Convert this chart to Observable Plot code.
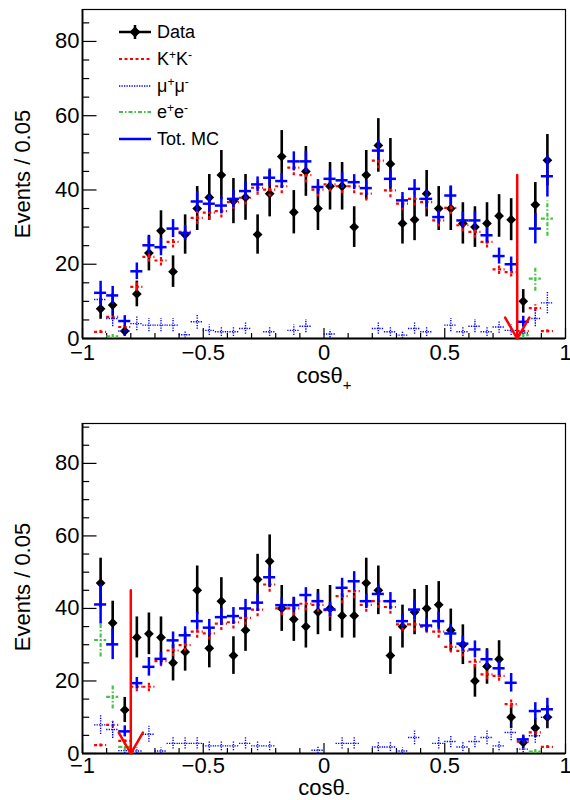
<!DOCTYPE html>
<html><head><meta charset="utf-8">
<script src="https://cdn.jsdelivr.net/npm/d3@7"></script>
<script src="https://cdn.jsdelivr.net/npm/@observablehq/plot@0.6"></script>
<style>
body{margin:0;background:#fff;}
#wrap{position:relative;width:570px;height:800px;font-family:"Liberation Sans",Arial,Helvetica,sans-serif;color:#000;overflow:hidden;}
#wrap svg{display:block;}
.ytitle{position:absolute;transform:translate(-50%,-50%) rotate(-90deg);white-space:nowrap;font-size:22px;line-height:22px;}
.xtitle{position:absolute;transform:translateX(-50%);white-space:nowrap;font-size:22px;line-height:22px;}
.leg{position:absolute;height:20px;}
.leg svg{position:absolute;left:0;top:0;}
.leg span{position:absolute;left:38px;top:0;line-height:20px;font-size:18px;white-space:nowrap;}
.leg sup{font-size:12px;vertical-align:6px;line-height:0;}
</style>
</head><body>
<div id="wrap"></div>
<script>
// ---- data (bin centers, bin width 0.05) ----
const binCenters = [-0.925,-0.875,-0.825,-0.775,-0.725,-0.675,-0.625,-0.575,-0.525,-0.475,
  -0.425,-0.375,-0.325,-0.275,-0.225,-0.175,-0.125,-0.075,-0.025,0.025,
  0.075,0.125,0.175,0.225,0.275,0.325,0.375,0.425,0.475,0.525,
  0.575,0.625,0.675,0.725,0.775,0.825,0.875,0.925];
const binWidth = 0.05;

// cos theta+ panel
const dataPlus = [8,9,2,12,23,29,18,28,35,38, 44,37,38,28,39,49,34,45,35,41, 41,30,44,52,47,31,32,39,35,35, 31,30,31,33,32,10,36,48];
const totPlus = [12.3,11.6,4.7,18.1,25.1,24.6,29.6,28.4,36.9,36.3, 35.8,37.6,39.7,41.5,43.3,42.4,47.7,47.7,40.8,43, 42.6,42.1,40.5,50.6,43,37.2,40.3,37.6,32.7,38.5, 31.8,31.8,27.8,22.2,20,4.5,29.6,43.7];
const kkPlus = [1.8,5.8,3.1,13.9,22,21,26,28.7,32.5,33.9, 34.3,36.7,37.9,40.6,40.1,41,46,44,40.1,41.5, 41,41,39,47.9,39.9,36.3,37.6,36.7,31.8,35.2, 30.5,28.7,26,18.6,17.9,2,8.2,2];
const mumuPlus = [10.5,5.4,2,4,3.6,3.6,3.6,1,4.5,2.2, 1.8,1.8,2.7,null,1.8,null,2.2,3.3,null,1.2, null,null,null,2.7,1.8,0.9,2.7,1.8,null,3.6, 1.8,3.3,1.8,3.1,2.2,1.5,5.4,9.6];
const eePlus = [null,0.6,null,null,null,null,null,null,null,null, null,null,null,null,null,null,null,null,null,null, null,null,null,null,null,null,null,null,null,null, null,null,null,null,null,0.9,16.1,32.3];

// cos theta- panel
const dataMinus = [47,36,12,32,33,32,25,28,45,29, 42,27,34,48,53,40,37,35,39,40, 38,38,47,45,27,35,39,40,41,34, 30,20,24,26,10,3,7,10];
const totMinus = [41.1,30.1,6.1,19.4,23.9,26.1,31.2,32.6,36.5,34.7, 37.6,37.9,40,41.6,48.6,40.9,40.9,43.7,42,39.7, 45.7,47.5,42,44,42,36.5,39.7,35.3,36.5,33.1, 30.3,28.7,26,23.5,19.5,3.9,11.7,12.2];
const kkMinus = [2.3,7.9,3.5,18.4,18.4,25.5,28.4,29.9,33.6,33.1, 35.8,36.2,37.4,39.7,46.6,40,40,41.3,41,39.5, 43.4,44.8,41,42,40.4,35.6,35.6,35,33.6,29.4, 28.3,25.3,21.8,21.4,13.6,3.3,5.8,1.8];
const mumuMinus = [7.9,6.6,0.8,0.7,5.3,0.7,2.8,2.8,2.8,2.1, 2.1,2.1,2.8,2.1,2.1,null,null,null,0.9,null, 2.8,2.8,null,1.8,1.8,0.7,4.4,null,2.8,3.3, 1.8,3.3,4.4,2.1,5.8,1.2,4.9,10];
const eeMinus = [31.3,15.6,1.8,null,null,null,null,null,null,null, null,null,null,null,null,null,null,null,null,null, null,null,null,null,null,null,null,null,null,null, null,null,null,null,null,null,0.5,null];

// MC event weights (estimated from error bar sizes)
const mcWeight = {kk: 0.1, mumu: 0.9, ee: 0.7};

// selection cuts (arrows)
const cutPlus = 0.8, arrowTopPlus = 44;
const cutMinus = -0.8, arrowTopMinus = 45;

// axis ticks
const xMajor = [-1,-0.5,0,0.5,1];
const xMinor = [-0.9,-0.8,-0.7,-0.6,-0.4,-0.3,-0.2,-0.1,0.1,0.2,0.3,0.4,0.6,0.7,0.8,0.9];
const yMajor = [0,20,40,60,80];
const yMinorPlus = [5,10,15,25,30,35,45,50,55,65,70,75,85];
const yMinorMinus = [5,10,15,25,30,35,45,50,55,65,70,75,85,90];

const legendLabels = ["Data","K<sup>+</sup>K<sup>-</sup>","&mu;<sup>+</sup>&mu;<sup>-</sup>","e<sup>+</sup>e<sup>-</sup>","Tot. MC"];
const yTitle = "Events / 0.05";

// ---- styles ----
const RED = "#ff0000", BLUE = "#0000ff", GREEN = "#44c444";
const styleKK = {stroke: RED, strokeWidth: 2.2, strokeDasharray: "3,2.5"};
const styleMuMu = {stroke: BLUE, strokeWidth: 1.4, strokeDasharray: "1.3,1.2"};
const styleEE = {stroke: GREEN, strokeWidth: 2.2, strokeDasharray: "4,2,1.5,2"};
const styleTot = {stroke: BLUE, strokeWidth: 2.5};

function mcRows(vals, w) {
  return binCenters.flatMap((x, i) => vals[i] == null ? [] :
    [{x, lo: x - binWidth / 2, hi: x + binWidth / 2, v: vals[i], e: Math.sqrt(w * vals[i])}]);
}
function totRows(tot, kk, mumu, ee) {
  return binCenters.map((x, i) => ({x, lo: x - binWidth / 2, hi: x + binWidth / 2, v: tot[i],
    e: Math.sqrt(mcWeight.kk * (kk[i] || 0) + mcWeight.mumu * (mumu[i] || 0) + mcWeight.ee * (ee[i] || 0))}));
}
function errMarks(rows, style) {
  return [
    Plot.ruleY(rows, {y: "v", x1: "lo", x2: "hi", ...style}),
    Plot.ruleX(rows, {x: "x", y1: d => Math.max(0, d.v - d.e), y2: d => d.v + d.e, ...style})
  ];
}
const fmtX = d => d < 0 ? "\u2212" + Math.abs(d) : String(d);

function panel({data, kk, mumu, ee, tot, yMax, yMinor, height, marginTop, marginBottom, cut, arrowTop, xPad}) {
  const dataRows = binCenters.map((x, i) => ({x, v: data[i], e: Math.sqrt(data[i])}));
  return Plot.plot({
    width: 570, height, marginLeft: 82, marginRight: 5, marginTop, marginBottom,
    x: {domain: [-1, 1]},
    y: {domain: [0, yMax]},
    style: {fontFamily: "'Liberation Sans', Arial, Helvetica, sans-serif", fontSize: "22px", background: "white", overflow: "visible"},
    marks: [
      Plot.frame({stroke: "black", strokeWidth: 1.2}),
      Plot.ruleX([-1], {stroke: "black", strokeWidth: 1.8}),
      Plot.ruleY([0], {stroke: "black", strokeWidth: 1.8}),
      Plot.axisY({ticks: yMajor, tickSize: -14.5, tickFormat: () => "", label: null, strokeWidth: 1.2}),
      Plot.axisY({ticks: yMinor, tickSize: -7.2, tickFormat: () => "", label: null, strokeWidth: 1.2}),
      Plot.axisY({ticks: yMajor, tickSize: 0, tickPadding: 3, tickFormat: d => String(d), label: null}),
      Plot.axisX({ticks: xMajor, tickSize: -10, tickFormat: () => "", label: null, strokeWidth: 1.2}),
      Plot.axisX({ticks: xMinor, tickSize: -5, tickFormat: () => "", label: null, strokeWidth: 1.2}),
      Plot.axisX({ticks: xMajor, tickSize: 0, tickPadding: xPad, tickFormat: fmtX, label: null}),
      // data
      Plot.ruleX(dataRows, {x: "x", y1: d => Math.max(0, d.v - d.e), y2: d => d.v + d.e, stroke: "black", strokeWidth: 2.6}),
      Plot.dot(dataRows, {x: "x", y: "v", symbol: "diamond2", r: 4.4, fill: "black", stroke: "none"}),
      // MC components
      ...errMarks(mcRows(kk, mcWeight.kk), styleKK),
      ...errMarks(mcRows(mumu, mcWeight.mumu), styleMuMu),
      ...errMarks(mcRows(ee, mcWeight.ee), styleEE),
      ...errMarks(totRows(tot, kk, mumu, ee), styleTot),
      // cut arrow
      Plot.arrow([{x: cut, top: arrowTop, bottom: 0}], {x1: "x", x2: "x", y1: "top", y2: "bottom",
        stroke: RED, strokeWidth: 2.5, headLength: 14.5, headAngle: 60})
    ]
  });
}

const wrap = document.getElementById("wrap");
wrap.appendChild(panel({data: dataPlus, kk: kkPlus, mumu: mumuPlus, ee: eePlus, tot: totPlus,
  yMax: 88.6, yMinor: yMinorPlus, height: 400, marginTop: 9, marginBottom: 62, cut: cutPlus, arrowTop: arrowTopPlus, xPad: 6}));
wrap.appendChild(panel({data: dataMinus, kk: kkMinus, mumu: mumuMinus, ee: eeMinus, tot: totMinus,
  yMax: 91, yMinor: yMinorMinus, height: 400, marginTop: 23, marginBottom: 47, cut: cutMinus, arrowTop: arrowTopMinus, xPad: 4}));

function addDiv(cls, html, css) {
  const d = document.createElement("div");
  d.className = cls; d.innerHTML = html; Object.assign(d.style, css);
  wrap.appendChild(d); return d;
}
// axis titles
addDiv("ytitle", yTitle, {left: "23px", top: "173.5px"});
addDiv("ytitle", yTitle, {left: "23px", top: "587px"});
addDiv("xtitle", 'cos&theta;<span style="font-size:15px;position:relative;top:7px;">+</span>', {left: "324px", top: "365px"});
addDiv("xtitle", 'cos&theta;<span style="font-size:15px;position:relative;top:3px;">-</span>', {left: "324px", top: "777px"});

// legend
const legendSamples = [
  '<line x1="0" y1="10" x2="32" y2="10" stroke="black" stroke-width="2.5"/><line x1="16" y1="3" x2="16" y2="17" stroke="black" stroke-width="2.5"/><polygon points="16,4.5 21.5,10 16,15.5 10.5,10" fill="black"/>',
  '<line x1="0" y1="10" x2="32" y2="10" stroke="' + RED + '" stroke-width="2.2" stroke-dasharray="3,2.5"/>',
  '<line x1="0" y1="10" x2="32" y2="10" stroke="' + BLUE + '" stroke-width="1.6" stroke-dasharray="1.3,1.2"/>',
  '<line x1="0" y1="10" x2="32" y2="10" stroke="' + GREEN + '" stroke-width="2.2" stroke-dasharray="4,2,1.5,2"/>',
  '<line x1="0" y1="10" x2="32" y2="10" stroke="' + BLUE + '" stroke-width="2.5"/>'
];
const legendRowY = [32, 58.5, 85.5, 112, 139];
legendLabels.forEach((lab, i) => {
  addDiv("leg", '<svg width="34" height="20">' + legendSamples[i] + '</svg><span>' + lab + '</span>',
    {left: "119px", top: (legendRowY[i] - 10) + "px", width: "150px"});
});
</script>
</body></html>
